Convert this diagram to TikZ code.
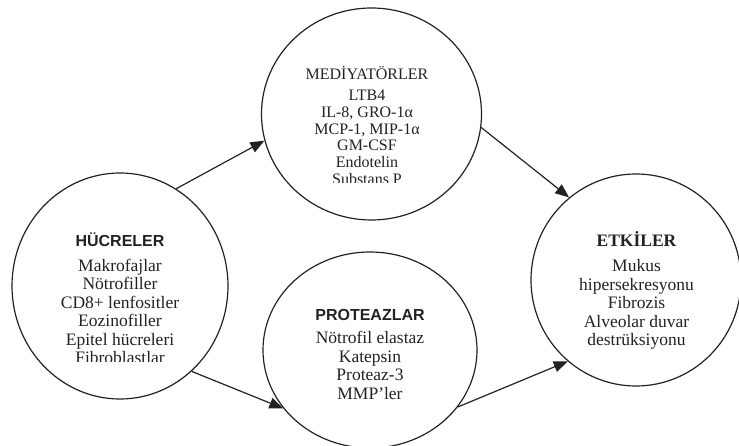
\documentclass[tikz,border=0pt]{standalone}
\usepackage{fontspec}
\setmainfont{Liberation Serif}
\newfontfamily\headsans{Liberation Sans}
\usetikzlibrary{shapes.geometric,arrows.meta}
\definecolor{ink}{RGB}{34,34,34}

\tikzset{
  blob/.style={draw=ink, line width=1.2pt, ellipse, inner sep=0pt},
  flow/.style={draw=ink, line width=1.2pt, -{Triangle[length=14pt,width=11pt]}},
  headtxt/.style={anchor=base, inner sep=0pt, text=ink},
  bodytxt/.style={anchor=north, align=center, inner sep=0pt, text=ink},
}

\begin{document}
\begin{tikzpicture}[x=1pt, y=-1pt]
  \useasboundingbox (0,0) rectangle (739,446);
  % Ellipses
  \node[blob, minimum width=216pt, minimum height=226pt] (hucre) at (120,286) {};
  \node[blob, minimum width=220pt, minimum height=212pt] (medi) at (371.5,114) {};
  \node[blob, minimum width=214pt, minimum height=196pt] (prot) at (370,350) {};
  \node[blob, minimum width=210pt, minimum height=212pt] (etki) at (636,280) {};
  % Headers
  \node[headtxt, font=\headsans\bfseries\fontsize{16}{18}\selectfont] (hucrehead) at (120,247) {HÜCRELER};
  \node[headtxt, font=\fontsize{16}{18}\selectfont] (medihead) at (367,80) {MEDİYATÖRLER};
  \node[headtxt, font=\headsans\bfseries\fontsize{16}{18}\selectfont] (prothead) at (370,320) {PROTEAZLAR};
  \node[headtxt, font=\bfseries\fontsize{17.5}{18.5}\selectfont] (etkihead) at (636.5,246.5) {ETKİLER};
  % Lists (last lines cut off)
  \begin{scope}
    \clip (0,252) rectangle (239,361);
    \node[bodytxt, font=\fontsize{17.5}{18.4}\selectfont] (hucrebody) at (120,259)
      {Makrofajlar\\Nötrofiller\\CD8+ lenfositler\\Eozinofiller\\Epitel hücreleri\\Fibroblastlar};
  \end{scope}
  \begin{scope}
    \clip (262,86) rectangle (480,182.5);
    \node[bodytxt, font=\fontsize{16}{16.7}\selectfont] (medibody) at (367,90)
      {LTB4\\IL-8, GRO-1α\\MCP-1, MIP-1α\\GM-CSF\\Endotelin\\Substans P};
  \end{scope}
  \node[bodytxt, font=\fontsize{17.5}{18.7}\selectfont] (protbody) at (370,331)
    {Nötrofil elastaz\\Katepsin\\Proteaz-3\\MMP’ler};
  \node[bodytxt, font=\fontsize{17.5}{18.5}\selectfont] (etkibody) at (636.5,259.5)
    {Mukus\\hipersekresyonu\\Fibrozis\\Alveolar duvar\\destrüksiyonu};
  % Arrows
  \draw[flow] (hucre.60) -- (medi.194);
  \draw[flow] (medi.353) -- (etki.129);
  \draw[flow] (hucre.-50) -- (prot.214);
  \draw[flow] (prot.-33) -- (etki.230);
\end{tikzpicture}
\end{document}
